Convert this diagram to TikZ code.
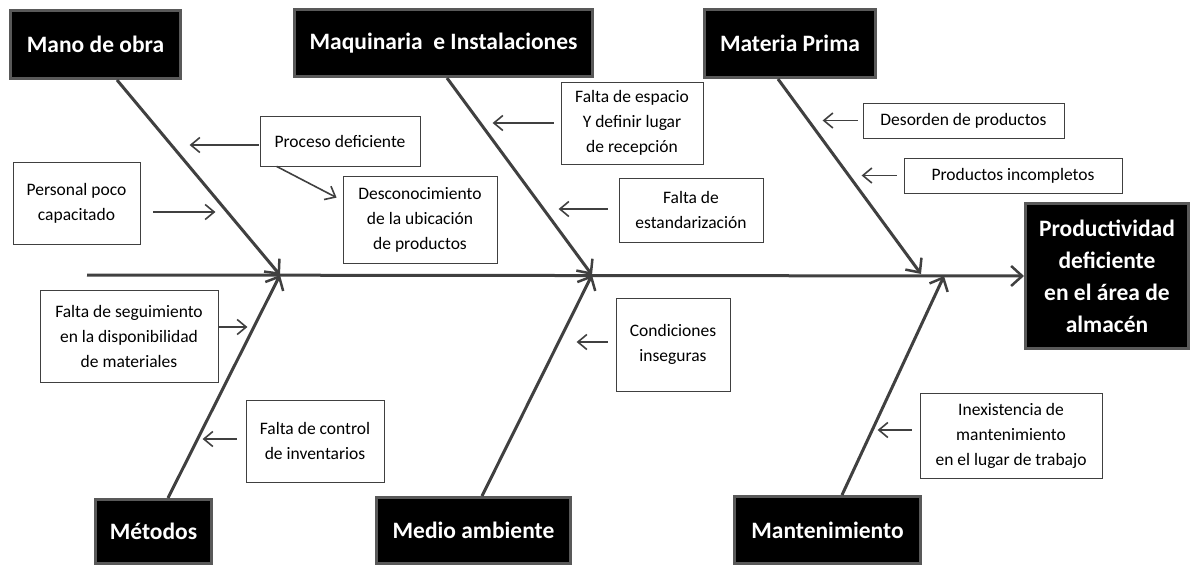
\documentclass[tikz,border=0pt]{standalone}
\usepackage{fontspec}
\setmainfont{Carlito}
\usepackage{tikz}
\usetikzlibrary{arrows.meta,positioning,calc}
\definecolor{linea}{HTML}{404040}
\definecolor{borde}{HTML}{595959}

\begin{document}
\begin{tikzpicture}[x=1pt,y=-1pt,
causa/.style={fill=black,draw=borde,line width=3pt,text=white,
  font=\fontsize{23.5}{32}\selectfont\bfseries,align=center,inner sep=0pt},
nota/.style={draw=linea,line width=0.8pt,fill=white,
  font=\fontsize{17.5}{25}\selectfont,align=center,inner sep=0pt},
hueso/.style={draw=linea,line width=3pt,
  -{Straight Barb[length=11pt,width=20pt,line width=2.5pt]}},
flecha/.style={draw=linea,line width=1.6pt,
  -{Straight Barb[length=9pt,width=15pt,line width=1.6pt]}}]
    \useasboundingbox (0,0) rectangle (1192,567);

    % Causas principales
    \node[causa,minimum width=170pt,minimum height=68pt] (manoobra) at (95.5,44.5) {Mano de obra};
    \node[causa,minimum width=298pt,minimum height=67pt] (maquinaria) at (443.5,43) {Maquinaria\ \ e Instalaciones};
    \node[causa,minimum width=171pt,minimum height=68pt] (materia) at (790,43.5) {Materia Prima};
    \node[causa,minimum width=116pt,minimum height=64pt] (metodos) at (153.5,531.5) {Métodos};
    \node[causa,minimum width=194pt,minimum height=66pt] (medio) at (473.5,530.5) {Medio ambiente};
    \node[causa,minimum width=186pt,minimum height=67pt] (mantenim) at (827.5,530) {Mantenimiento};
    \node[causa,minimum width=163pt,minimum height=145pt] (efecto) at (1107,276)
        {Productividad\\deficiente\\en el área de\\almacén};

    % Espina
    \coordinate (cola) at (87,275);
    \coordinate (j1) at (280,275);
    \coordinate (j2) at (592,275);
    \coordinate (j3) at (921,274);
    \coordinate (j4) at (944,276);
    \draw[hueso] (cola) -- (efecto.west);
    \draw[hueso] ($(manoobra.south)+(21.5,0)$) -- (j1);
    \draw[hueso] ($(metodos.north)+(14.5,0)$) -- (j1);
    \draw[hueso] ($(maquinaria.south)+(3.5,0)$) -- (j2);
    \draw[hueso] ($(medio.north)+(8.5,0)$) -- (j2);
    \draw[hueso] ($(materia.south)+(-12,0)$) -- (j3);
    \draw[hueso] ($(mantenim.north)+(14.5,0)$) -- (j4);

    % Subcausas
    \node[nota,minimum width=160pt,minimum height=50pt] (proceso) at (340,141) {Proceso deficiente};
    \node[nota,minimum width=127pt,minimum height=82pt] (personal) at (76.5,203) {Personal poco\\capacitado};
    \node[nota,minimum width=154pt,minimum height=87pt] (desconoc) at (420,219.5)
        {Desconocimiento\\de la ubicación\\de productos};
    \node[nota,minimum width=142pt,minimum height=82pt] (espacio) at (632,123)
        {Falta de espacio\\Y definir lugar\\de recepción};
    \node[nota,minimum width=144pt,minimum height=64pt] (estandar) at (691,210)
        {Falta de\\estandarización};
    \node[nota,minimum width=201pt,minimum height=35pt] (desorden) at (963.5,120.5) {Desorden de productos};
    \node[nota,minimum width=218pt,minimum height=35pt] (incompletos) at (1013,175.5) {Productos incompletos};
    \node[nota,minimum width=178pt,minimum height=92pt] (seguimiento) at (129,336)
        {Falta de seguimiento\\en la disponibilidad\\de materiales};
    \node[nota,minimum width=138pt,minimum height=82pt] (control) at (315,441)
        {Falta de control\\de inventarios};
    \node[nota,minimum width=114pt,minimum height=93pt] (condiciones) at (673,344.5)
        {Condiciones\\inseguras};
    \node[nota,minimum width=182pt,minimum height=85pt] (inexistencia) at (1011,435.5)
        {Inexistencia de\\mantenimiento\\en el lugar de trabajo};

    \draw[flecha] ($(proceso.west)+(-1,4)$) -- ++(-69,0);
    \draw[flecha] ($(personal.east)+(13,9)$) -- ++(62,0);
    \draw[flecha] ($(proceso.south west)+(17,0)$) -- ($(desconoc.north west)+(-6,22)$);
    \draw[flecha] ($(espacio.west)+(-7,0)$) -- ++(-61,0);
    \draw[flecha] ($(estandar.west)+(-11,-1)$) -- ++(-49,0);
    \draw[flecha] ($(desorden.west)+(-5,0)$) -- ++(-35,0);
    \draw[flecha] ($(incompletos.west)+(-7,0)$) -- ++(-35,0);
    \draw[flecha] ($(seguimiento.east)+(0,-9)$) -- ++(29,0);
    \draw[flecha] ($(control.west)+(-9,-2)$) -- ++(-34,0);
    \draw[flecha] ($(condiciones.west)+(-8,-2.5)$) -- ++(-31,0);
    \draw[flecha] ($(inexistencia.west)+(-8,-5.5)$) -- ++(-34,0);

\end{tikzpicture}
\end{document}
